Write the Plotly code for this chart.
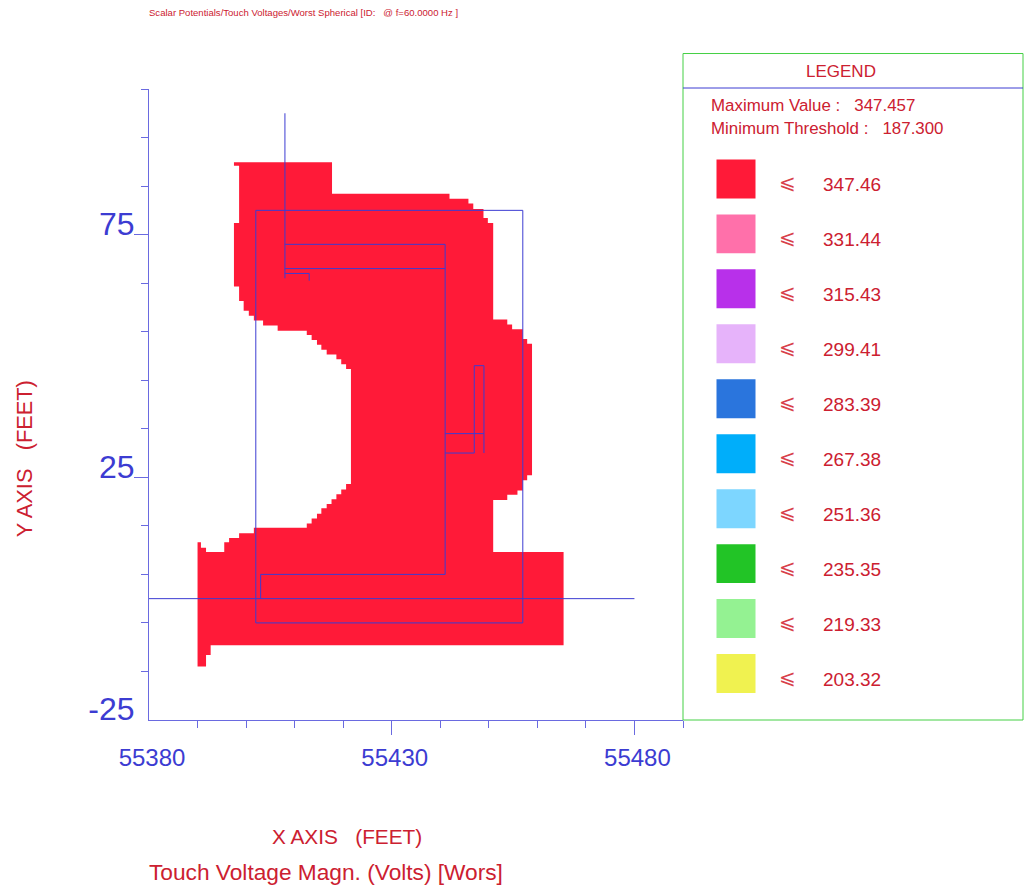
import plotly.graph_objects as go

W, H = 1028, 889
L, R, T, B = 149, 683, 88.5, 720

REGION_X = [55397.5,55417.7,55417.7,55441.9,55441.9,55445.8,55445.8,55446.8,55446.8,55448.9,55448.9,55449.8,55449.8,55450.9,
            55450.9,55453.8,55453.8,55454.8,55454.8,55457,55457,55457.9,55457.9,55458.9,55458.9,55457.9,55457.9,55457,55457,
            55455.9,55455.9,55453.8,55453.8,55450.9,55450.9,55465.4,55465.4,55392.7,55392.7,55391.75,55391.75,55390,55390,
            55390.7,55390.7,55391.75,55391.75,55395.5,55395.5,55396.5,55396.5,55398.56,55398.56,55401.6,55401.6,55412.5,
            55412.5,55413.5,55413.5,55414.6,55414.6,55415.5,55415.5,55416.6,55416.6,55417.6,55417.6,55418.6,55418.6,55419.6,
            55419.6,55420.6,55420.6,55421.6,55421.6,55420.6,55420.6,55419.6,55419.6,55418.6,55418.6,55416.6,55416.6,55415.5,
            55415.5,55414.6,55414.6,55413.5,55413.5,55412.5,55412.5,55406.5,55406.5,55403.5,55403.5,55401.6,55401.6,55400.56,
            55400.56,55399.5,55399.5,55398.56,55398.56,55397.5,55397.5,55398.56,55398.56,55397.5]
REGION_Y = [89.9,89.9,83.4,83.4,82.4,82.4,81.4,81.4,80.3,80.3,78.4,78.4,77.4,77.4,
            57.5,57.5,56.5,56.5,55.5,55.5,53.5,53.5,52.5,52.5,25.4,25.4,24.4,24.4,22.3,
            22.3,21.4,21.4,20.3,20.3,9.6,9.6,-9.6,-9.6,-11.6,-11.6,-14,-14,11.6,
            11.6,10.5,10.5,9.6,9.6,11.6,11.6,12.5,12.5,13.5,13.5,14.6,14.6,
            15.5,15.5,16.5,16.5,17.5,17.5,18.6,18.6,19.5,19.5,20.5,20.5,21.5,21.5,
            22.5,22.5,23.6,23.6,47.3,47.3,48.3,48.3,49.3,49.3,50.3,50.3,51.3,51.3,
            52.3,52.3,53.3,53.3,54.3,54.3,55.2,55.2,56.3,56.3,57.3,57.3,58.3,58.3,
            59.3,59.3,61.3,61.3,64.3,64.3,77.4,77.4,89.2,89.2]

GRID_X = [55380,55480,None, 55408,55408,None, 55402,55457,55457,55402,55402,None,
          55408,55441,55441,55403,55403,None, 55408,55441,None, 55408,55413,55413,None,
          55447,55447,55449,55449,None, 55441,55447,None, 55441,55449]
GRID_Y = [0,0,None, 100,66,None, 80,80,-5,-5,80,None,
          73,73,5,5,0,None, 68,68,None, 67,67,65.5,None,
          30,48,48,30,None, 30,30,None, 34,34]

X_LABELS = [55380, 55430, 55480]
Y_LABELS = [-25, 25, 75]
X_MAJOR = [55430, 55480]
Y_MAJOR = [25, 75]
X_MINOR = [55390,55400,55410,55420,55440,55450,55460,55470,55490]
Y_MINOR = [-15,-5,5,15,35,45,55,65,85,95,105]

LEGEND_VALUES = ["347.46","331.44","315.43","299.41","283.39","267.38","251.36","235.35","219.33","203.32"]
LEGEND_COLORS = ["#ff1a38","#ff70aa","#b830ea","#e6b3fa","#2a75dd","#00aefa","#7dd6ff","#22c426","#94f292","#f0f250"]

RED = "#cc2030"
BLUE = "#3c3cd2"
AXISBLUE = "#6a6ae0"
GREEN = "#44d044"
FONT = "Liberation Sans, Arial, sans-serif"

def px(x): return (x - L) / (R - L)
def py(y): return (B - y) / (B - T)

fig = go.Figure()
fig.add_trace(go.Scatter(x=REGION_X, y=REGION_Y, fill="toself", fillcolor="#ff1a38", mode="lines",
                         line=dict(width=0), hoverinfo="skip", showlegend=False))
fig.add_trace(go.Scatter(x=GRID_X, y=GRID_Y, mode="lines", line=dict(color=BLUE, width=1),
                         connectgaps=False, hoverinfo="skip", showlegend=False))
# invisible trace so that the overlay axes (longer major ticks) exist
fig.add_trace(go.Scatter(x=[55430], y=[25], xaxis="x2", yaxis="y2", mode="markers",
                         marker=dict(opacity=0), hoverinfo="skip", showlegend=False))

shapes = [
    dict(type="rect", xref="paper", yref="paper", x0=px(683), x1=px(1023), y0=py(720), y1=py(53),
         line=dict(color=GREEN, width=1)),
    dict(type="line", xref="paper", yref="paper", x0=px(683), x1=px(1023), y0=py(87.5), y1=py(87.5),
         line=dict(color=BLUE, width=1)),
]
annotations = []

def text(x, y, s, size, anchor="left", color=RED, angle=0, family=FONT):
    annotations.append(dict(xref="paper", yref="paper", x=px(x), y=py(y), text=s, showarrow=False,
                            xanchor=anchor, yanchor="middle", textangle=angle, borderpad=0, xshift=0,
                            font=dict(family=family, size=size, color=color), align="left"))

text(148, 12, "Scalar Potentials/Touch Voltages/Worst Spherical [ID:&nbsp;&nbsp;&nbsp;@ f=60.0000 Hz ]", 9.55)
text(841, 71, "LEGEND", 17, "center")
text(710, 105, "Maximum Value :&nbsp;&nbsp;&nbsp;347.457", 16.9)
text(710, 128, "Minimum Threshold :&nbsp;&nbsp;&nbsp;187.300", 16.9)
text(271, 837, "X AXIS&nbsp;&nbsp;&nbsp;(FEET)", 20.8)
text(148, 872, "Touch Voltage Magn. (Volts) [Wors]", 22.7)
text(24, 459, "Y AXIS&nbsp;&nbsp;&nbsp;(FEET)", 21.8, "center", angle=-90)

for i, (val, col) in enumerate(zip(LEGEND_VALUES, LEGEND_COLORS)):
    top = 159 + 55 * i
    shapes.append(dict(type="rect", xref="paper", yref="paper", x0=px(716.5), x1=px(755.5),
                       y0=py(top + 39), y1=py(top), fillcolor=col, line=dict(width=0)))
    text(787, top + 22.5, "\u2a7d", 20, "center", color="#d8404a", family="DejaVu Sans")
    text(822, top + 25, val, 19)

fig.update_layout(
    width=W, height=H, paper_bgcolor="white", plot_bgcolor="white",
    margin=dict(l=L, r=W - R, t=T, b=H - B, autoexpand=False),
    showlegend=False, shapes=shapes, annotations=annotations,
    xaxis=dict(range=[55380, 55490], showgrid=False, zeroline=False, showline=True, linecolor=AXISBLUE, linewidth=1,
               tickmode="array", tickvals=X_LABELS, ticktext=[str(v) for v in X_LABELS], ticks="", ticklabelstandoff=16,
               ticklabelshift=3, tickfont=dict(family=FONT, size=24, color=BLUE),
               minor=dict(tickmode="array", tickvals=X_MINOR, ticks="outside", ticklen=7, tickcolor=AXISBLUE, tickwidth=1, showgrid=False)),
    yaxis=dict(range=[-25, 105], showgrid=False, zeroline=False, showline=True, linecolor=AXISBLUE, linewidth=1,
               tickmode="array", tickvals=Y_LABELS, ticktext=[str(v) for v in Y_LABELS], ticks="", ticklabelstandoff=7,
               ticklabelshift=-11, tickfont=dict(family=FONT, size=32, color=BLUE),
               minor=dict(tickmode="array", tickvals=Y_MINOR, ticks="outside", ticklen=7, tickcolor=AXISBLUE, tickwidth=1, showgrid=False)),
    xaxis2=dict(range=[55380, 55490], overlaying="x", anchor="y2", side="bottom", showgrid=False, zeroline=False, showline=False,
                tickmode="array", tickvals=X_MAJOR, ticks="outside", ticklen=14, tickcolor=AXISBLUE, tickwidth=1, showticklabels=False),
    yaxis2=dict(range=[-25, 105], overlaying="y", anchor="x2", side="left", showgrid=False, zeroline=False, showline=False,
                tickmode="array", tickvals=Y_MAJOR, ticks="outside", ticklen=14, tickcolor=AXISBLUE, tickwidth=1, showticklabels=False),
)
fig.write_html("out.html", post_script="document.body.style.margin='0';", config=dict(displayModeBar=False))
